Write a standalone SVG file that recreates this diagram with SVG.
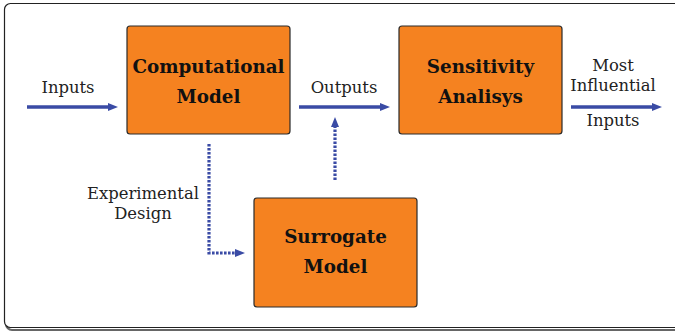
<svg xmlns="http://www.w3.org/2000/svg" width="675" height="331" viewBox="0 0 675 331">
<style>
.box{fill:#F58220;stroke:#2a2a2a;stroke-width:1.2}
.bt{font-family:"DejaVu Serif","Liberation Serif",serif;font-weight:bold;font-size:18.3px;fill:#111;text-anchor:middle}
.lt{font-family:"DejaVu Serif","Liberation Serif",serif;font-size:16.4px;fill:#222;text-anchor:middle}
.solid{stroke:#3A4BA5;stroke-width:3.5;fill:none}
.dot{stroke:#3A4BA5;stroke-width:3.2;fill:none;stroke-dasharray:2.6 1.4}
</style>
<defs>
<marker id="ah" markerWidth="10" markerHeight="8" refX="0" refY="4" orient="auto" markerUnits="userSpaceOnUse">
<path d="M0,0 L10,4 L0,8 z" fill="#3A4BA5"/>
</marker>
</defs>
<rect x="6" y="5" width="680" height="325" rx="6" fill="none" stroke="#666" stroke-width="2"/>
<rect x="4.5" y="3.5" width="680" height="324" rx="6" fill="#fff" stroke="#222" stroke-width="1.2"/>
<g id="computational-model">
<rect class="box" x="127" y="26" width="163" height="108" rx="3"/>
<text class="bt" x="208.5" y="73">Computational</text>
<text class="bt" x="208.5" y="103">Model</text>
</g>
<g id="sensitivity-analysis">
<rect class="box" x="399" y="26" width="163" height="108" rx="3"/>
<text class="bt" x="480.5" y="73">Sensitivity</text>
<text class="bt" x="480.5" y="103">Analisys</text>
</g>
<g id="surrogate-model">
<rect class="box" x="254" y="198" width="163" height="109" rx="3"/>
<text class="bt" x="335.5" y="243">Surrogate</text>
<text class="bt" x="335.5" y="273">Model</text>
</g>
<g id="connectors">
<path class="solid" d="M27,107 H108" marker-end="url(#ah)"/>
<path class="solid" d="M299,107 H380" marker-end="url(#ah)"/>
<path class="solid" d="M571,107 H652" marker-end="url(#ah)"/>
<path class="dot" d="M209,144 V253 H235" marker-end="url(#ah)"/>
<path class="dot" d="M335,180 V127" marker-end="url(#ah)"/>
</g>
<g id="labels">
<text class="lt" x="68" y="93">Inputs</text>
<text class="lt" x="344" y="93">Outputs</text>
<text class="lt" x="613" y="71">Most</text>
<text class="lt" x="613" y="91">Influential</text>
<text class="lt" x="613" y="126">Inputs</text>
<text class="lt" x="143" y="199">Experimental</text>
<text class="lt" x="143" y="219">Design</text>
</g>
</svg>
